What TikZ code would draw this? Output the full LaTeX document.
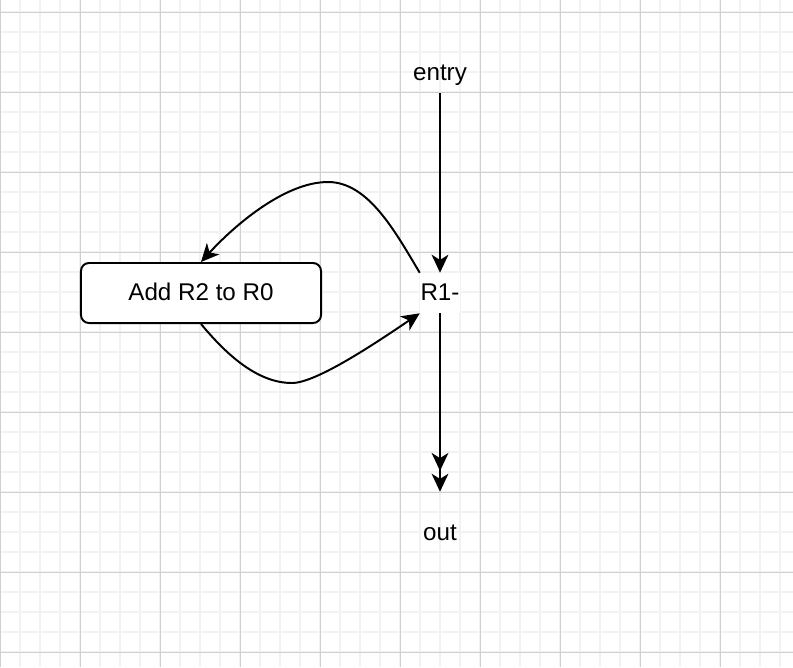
\documentclass[tikz,border=0pt]{standalone}
\usepackage{fontspec}
\setmainfont{Liberation Sans}
\usetikzlibrary{arrows.meta}
\definecolor{rejilla}{HTML}{F2F2F2}
\definecolor{rejillamayor}{HTML}{D0D0D0}

\begin{document}
\begin{tikzpicture}[x=0.025cm, y=-0.025cm,
    texto/.style={font=\fontsize{17.2}{20}\selectfont, inner sep=0pt, minimum height=1cm,
                  text height=1em, text depth=0em},
    caja/.style={texto, draw, fill=white, line width=1.4pt, rounded corners=0.2cm,
                 minimum width=6cm, minimum height=1.5cm},
    flecha/.style={line width=1.4pt, -{Stealth[length=0.45cm, width=0.42cm, inset=0.13cm]}},
    doble/.style={line width=1.4pt, -{Stealth[length=0.45cm, width=0.42cm, inset=0.13cm, sep=0.07cm]
                                      Stealth[length=0.45cm, width=0.42cm, inset=0.13cm]}}]
    \useasboundingbox (0,0) rectangle (793,667);
    \fill[white] (0,0) rectangle (793,667);

    % Cuadrícula
    \foreach \gx in {0,20,...,780} {
        \draw[rejilla, line width=1.4pt] (\gx,0) -- (\gx,667);
    }
    \foreach \gy in {12,32,...,652} {
        \draw[rejilla, line width=1.4pt] (0,\gy) -- (793,\gy);
    }
    \foreach \gx in {0,80,...,720} {
        \draw[rejillamayor, line width=0.7pt] (\gx,0) -- (\gx,667);
    }
    \foreach \gy in {12,92,...,652} {
        \draw[rejillamayor, line width=0.7pt] (0,\gy) -- (793,\gy);
    }

    % Nodos
    \node[texto] (entry) at (440,73) {entry};
    \node[texto, fill=white, minimum width=1cm] (r1) at (440,293) {R1-};
    \node[texto] (out) at (440,533) {out};
    \node[caja] (add) at (201,293) {Add R2 to R0};
    \coordinate (cima) at (328,182);
    \coordinate (valle) at (292,383);

    % Flechas
    \draw[flecha] (entry.south) -- (r1.north);
    \draw[doble, shorten >=0.525cm] (r1.south) -- (out.north);
    \draw[flecha] (r1.north west) .. controls +(-25,-42) and +(40,0) .. (cima)
                  .. controls +(-45,0) and +(30,-33) .. (add.north);
    \draw[flecha] (add.south) .. controls +(25,30) and +(-35,0) .. (valle)
                  .. controls +(25,0) and +(-40,27) .. (r1.south west);
\end{tikzpicture}
\end{document}
